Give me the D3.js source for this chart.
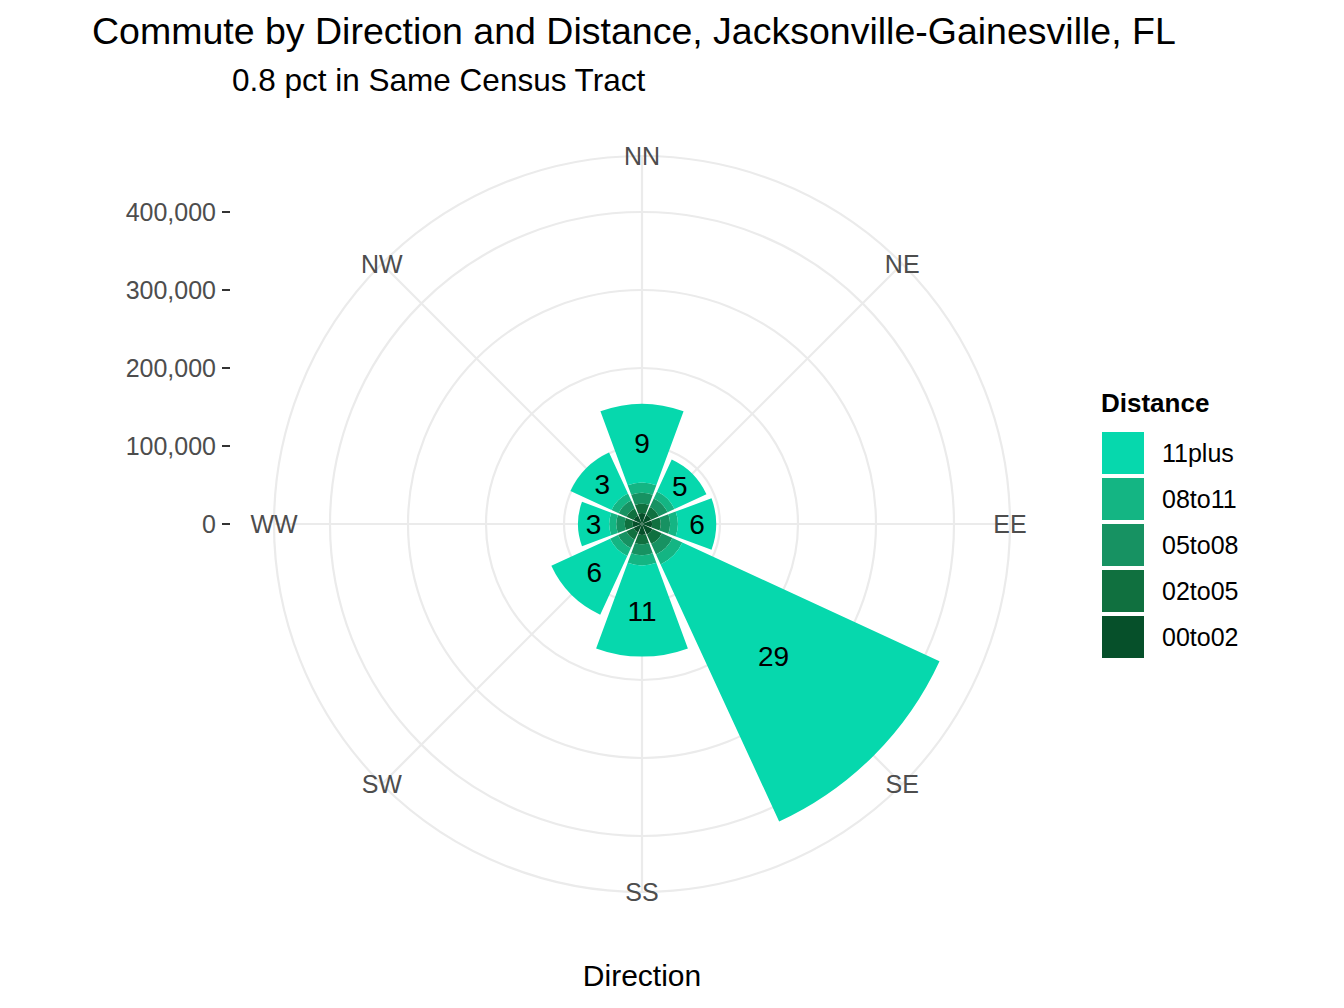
<!DOCTYPE html>
<html><head><meta charset="utf-8">
<script src="https://cdn.jsdelivr.net/npm/d3@7"></script>
<style>body{margin:0;background:#fff}text{font-family:Arial,"Liberation Sans",sans-serif}</style>
</head><body><svg id="c" width="1344" height="1008"></svg>
<script>
const directions = ["NN", "NE", "EE", "SE", "SS", "SW", "WW", "NW"];
const distances = ["00to02", "02to05", "05to08", "08to11", "11plus"];
const colors = ["#06502a", "#10703f", "#179262", "#14b583", "#06d8ad"];
// values per direction, one array per distance band (inner to outer)
const d00to02 = [14000, 13000, 13000, 15000, 14000, 12000, 12000, 12000];
const d02to05 = [12000, 11000, 11000, 13000, 12000, 10000, 10000, 10000];
const d05to08 = [14000, 12000, 12000, 15000, 14000, 12000, 11000, 11000];
const d08to11 = [13000, 10000, 10000, 14000, 13000, 11000, 9000, 10000];
const d11plus = [101000, 45000, 49000, 363000, 117000, 83000, 40000, 58000];
const pctLabels = ["9", "5", "6", "29", "11", "6", "3", "3"];
const yTicks = [0, 100000, 200000, 300000, 400000];

const svg = d3.select("#c");
const cx = 642, cy = 524;
const r = d3.scaleLinear().domain([0, 100000]).range([0, 78]);
const outerR = 368;
const ang = d3.scaleBand().domain(directions).range([-Math.PI / 8, 2 * Math.PI - Math.PI / 8]);

const g = svg.append("g").attr("transform", `translate(${cx},${cy})`);

// grid
yTicks.slice(1).forEach(t => g.append("circle").attr("r", r(t)).attr("fill", "none").attr("stroke", "#ebebeb").attr("stroke-width", 2.2));
g.append("circle").attr("r", outerR).attr("fill", "none").attr("stroke", "#ebebeb").attr("stroke-width", 2.2);
directions.forEach(d => {
  const a = ang(d) + ang.bandwidth() / 2;
  g.append("line").attr("x2", outerR * Math.sin(a)).attr("y2", -outerR * Math.cos(a))
    .attr("stroke", "#ebebeb").attr("stroke-width", 2.2);
});

// bars
const bands = [d00to02, d02to05, d05to08, d08to11, d11plus];
const arc = d3.arc();
directions.forEach((d, i) => {
  const a = ang(d) + ang.bandwidth() / 2;
  const half = ang.bandwidth() * 0.45;
  let base = 0;
  bands.forEach((b, k) => {
    const top = base + b[i];
    g.append("path").attr("d", arc({innerRadius: r(base), outerRadius: r(top), startAngle: a - half, endAngle: a + half}))
      .attr("fill", colors[k]);
    if (k === 4) {
      const rm = (r(base) + r(top)) / 2;
      g.append("text").attr("x", rm * Math.sin(a)).attr("y", -rm * Math.cos(a)).attr("dy", "0.36em")
        .attr("text-anchor", "middle").attr("font-size", 28).text(pctLabels[i]);
    }
    base = top;
  });
});

// direction labels
directions.forEach(d => {
  const a = ang(d) + ang.bandwidth() / 2;
  g.append("text").attr("x", outerR * Math.sin(a)).attr("y", -outerR * Math.cos(a)).attr("dy", "0.36em")
    .attr("text-anchor", "middle").attr("font-size", 25).attr("fill", "#4d4d4d").text(d);
});

// radial axis on left
yTicks.forEach(t => {
  const y = cy - r(t);
  svg.append("line").attr("x1", 222).attr("x2", 230).attr("y1", y).attr("y2", y).attr("stroke", "#333").attr("stroke-width", 2);
  svg.append("text").attr("x", 216).attr("y", y).attr("dy", "0.36em").attr("text-anchor", "end")
    .attr("font-size", 25).attr("fill", "#4d4d4d").text(d3.format(",")(t));
});

// titles
svg.append("text").attr("x", 92).attr("y", 44).attr("font-size", 37.5).text("Commute by Direction and Distance, Jacksonville-Gainesville, FL");
svg.append("text").attr("x", 232).attr("y", 91).attr("font-size", 31.5).text("0.8 pct in Same Census Tract");
svg.append("text").attr("x", 642).attr("y", 986).attr("text-anchor", "middle").attr("font-size", 30).text("Direction");

// legend
svg.append("text").attr("x", 1101).attr("y", 412).attr("font-size", 26).attr("font-weight", "bold").text("Distance");
const legendOrder = distances.slice().reverse();
legendOrder.forEach((d, i) => {
  const y = 432 + i * 46;
  svg.append("rect").attr("x", 1102).attr("y", y).attr("width", 42).attr("height", 42).attr("fill", colors[distances.indexOf(d)]);
  svg.append("text").attr("x", 1162).attr("y", y + 21).attr("dy", "0.36em").attr("font-size", 25).text(d);
});
</script></body></html>
